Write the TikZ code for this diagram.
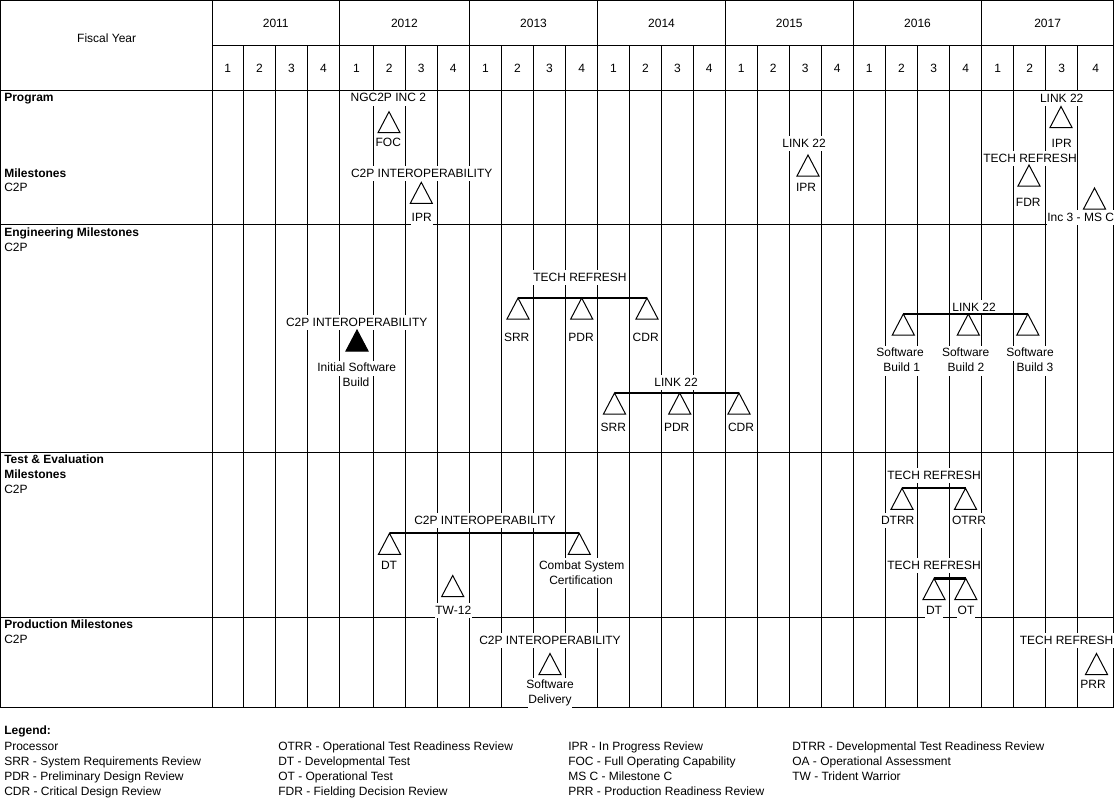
\documentclass[tikz,border=0pt]{standalone}
\usepackage{fontspec}
\setmainfont{Liberation Sans}
\tikzset{
  ms/.pic={\path[draw, line width=0.75pt, fill=white, line join=miter, pic actions] (0,0) -- (11,21) -- (-11,21) -- cycle;},
  msf/.pic={\path[draw, line width=0.75pt, fill=black, line join=miter] (0,0) -- (11,21) -- (-11,21) -- cycle;},
}
\begin{document}
\begin{tikzpicture}[x=0.75pt,y=-0.75pt,
  grid/.style={line width=0.75pt},
  bar/.style={line width=1.6pt},
  lbl/.style={fill=white, inner xsep=0.6pt, inner ysep=0.75pt, text height=7.5pt, text depth=2.3pt, font=\fontsize{9}{10.5}\selectfont, anchor=base},
  hd/.style={inner sep=0pt, font=\fontsize{9}{10.5}\selectfont, anchor=base},
  sec/.style={inner sep=0pt, anchor=base west, font=\fontsize{9}{10.5}\selectfont\bfseries},
  sub/.style={inner sep=0pt, anchor=base west, font=\fontsize{9}{10.5}\selectfont},
]
\useasboundingbox (0,0) rectangle (1116,800);
\fill[white] (0,0) rectangle (1116,800);

% ---------- grid ----------
\draw[grid] (0.5,0.5) rectangle (1113.5,707);
\draw[grid] (212,0.5) -- (212,707);
\draw[grid] (212,45) -- (1113.5,45);
\foreach \y in {90,224,452,617} \draw[grid] (0.5,\y) -- (1113.5,\y);
\foreach \x in {339.5,469.3,597.7,725.3,853.3,981.7} \draw[grid] (\x,0.5) -- (\x,707);
\foreach \x in {243.5,275.5,307.5,373.3,405.3,437.3,501.7,533.3,565.7,629.3,661.7,693.3,757.3,789.3,821.3,885.3,917.7,949.7,1013.7,1045.7,1077.7}
  \draw[grid] (\x,45) -- (\x,707);

% ---------- header ----------
\node[hd] (fy) at (106.7,42) {Fiscal Year};
\foreach \yr/\cx in {2011/275.75,2012/404.4,2013/533.5,2014/661.5,2015/789.3,2016/917.5,2017/1047.6}
  \node[hd] (y\yr) at (\cx,27.3) {\yr};
\foreach \x [count=\i, remember=\x as \lx (initially 212)] in {243.5,275.5,307.5,339.5,373.3,405.3,437.3,469.3,501.7,533.3,565.7,597.7,629.3,661.7,693.3,725.3,757.3,789.3,821.3,853.3,885.3,917.7,949.7,981.7,1013.7,1045.7,1077.7,1113.5}{
  \pgfmathtruncatemacro\qn{mod(\i-1,4)+1}
  \node[hd] (q\i) at ({(\x+\lx)/2},72.3) {\qn};
}

% ---------- left column ----------
\node[sec] (prog) at (4,101.5) {Program};
\node[sec] (progm) at (4,177) {Milestones};
\node[sub] (progc) at (4,191) {C2P};
\node[sec] (eng) at (4,236) {Engineering Milestones};
\node[sub] (engc) at (4,251) {C2P};
\node[sec] (te1) at (4,463.5) {Test \& Evaluation};
\node[sec] (te2) at (4,478.5) {Milestones};
\node[sub] (tec) at (4,493.5) {C2P};
\node[sec] (pm) at (4,628.5) {Production Milestones};
\node[sub] (pmc) at (4,643.5) {C2P};

% ---------- Program milestones ----------
\coordinate (foc) at (389,111.7);
\coordinate (ipr1) at (421.3,182.3);
\coordinate (ipr2) at (808,155);
\coordinate (ipr3) at (1061,106.5);
\coordinate (fdr) at (1029,165);
\coordinate (msc) at (1094.5,188);
\node[lbl] (ngc) at (388.3,101.5) {NGC2P INC 2};
\node[lbl] (focl) at (388.3,146.7) {FOC};
\node[lbl] (c2p1) at (421.7,177.3) {C2P INTEROPERABILITY};
\node[lbl] (ipr1l) at (421.7,221) {IPR};
\node[lbl] (l22a) at (804,147.3) {LINK 22};
\node[lbl] (ipr2l) at (806,191) {IPR};
\node[lbl] (l22b) at (1061.7,102.3) {LINK 22};
\node[lbl] (ipr3l) at (1061.7,147.3) {IPR};
\node[lbl] (trp) at (1030,162.3) {TECH REFRESH};
\node[lbl] (fdrl) at (1028.3,206.7) {FDR};
\node[lbl] (mscl) at (1080.7,221) {Inc 3 - MS C};
\foreach \c in {foc,ipr1,ipr2,ipr3,fdr,msc} \pic at (\c) {ms};

% ---------- Engineering milestones ----------
\coordinate (isb) at (357,330);
\node[lbl] (c2p2) at (356.7,326) {C2P INTEROPERABILITY};
\node[lbl] (isbl1) at (356.7,371.7) {Initial Software};
\node[lbl] (isbl2) at (356,386) {Build};
\pic at (isb) {msf};

\coordinate (esrr1) at (518,298);
\coordinate (epdr1) at (581.7,298);
\coordinate (ecdr1) at (647,298);
\node[lbl] (tre) at (580,281) {TECH REFRESH};
\node[lbl] (esrr1l) at (516.7,341.7) {SRR};
\node[lbl] (epdr1l) at (581,341.7) {PDR};
\node[lbl] (ecdr1l) at (645.7,341.7) {CDR};
\draw[bar] (esrr1) -- (ecdr1);
\foreach \c in {esrr1,epdr1,ecdr1} \pic at (\c) {ms};

\coordinate (esrr2) at (614.5,393);
\coordinate (epdr2) at (679.7,393);
\coordinate (ecdr2) at (739,393);
\node[lbl] (l22e) at (676,386) {LINK 22};
\node[lbl] (esrr2l) at (613.3,431) {SRR};
\node[lbl] (epdr2l) at (676.7,431) {PDR};
\node[lbl] (ecdr2l) at (741,431) {CDR};
\draw[bar] (esrr2) -- (ecdr2);
\foreach \c in {esrr2,epdr2,ecdr2} \pic at (\c) {ms};

\coordinate (sb1) at (903.3,314);
\coordinate (sb2) at (968.3,314);
\coordinate (sb3) at (1027.8,314);
\node[lbl] (l22f) at (974,311) {LINK 22};
\node[lbl] (sb1a) at (900,356.7) {Software};
\node[lbl] (sb1b) at (901.7,371.7) {Build 1};
\node[lbl] (sb2a) at (965.7,356.7) {Software};
\node[lbl] (sb2b) at (966,371.7) {Build 2};
\node[lbl] (sb3a) at (1030,356.7) {Software};
\node[lbl] (sb3b) at (1035,371.7) {Build 3};
\draw[bar] (sb1) -- (sb3);
\foreach \c in {sb1,sb2,sb3} \pic at (\c) {ms};

% ---------- Test & Evaluation milestones ----------
\coordinate (tdt) at (389.5,533.3);
\coordinate (csc) at (579.3,533.3);
\coordinate (tw) at (452.7,575.5);
\node[lbl] (c2p3) at (485,524.3) {C2P INTEROPERABILITY};
\node[lbl] (tdtl) at (389,569) {DT};
\node[lbl] (cscl1) at (581.7,569) {Combat System};
\node[lbl] (cscl2) at (581,584.3) {Certification};
\node[lbl] (twl) at (453.3,614) {TW-12};
\draw[bar] (tdt) -- (csc);
\foreach \c in {tdt,csc,tw} \pic at (\c) {ms};

\coordinate (dtrr) at (902,488.3);
\coordinate (otrr) at (965.5,488.3);
\node[lbl] (trt1) at (934,479) {TECH REFRESH};
\node[lbl] (dtrrl) at (897.7,524) {DTRR};
\node[lbl] (otrrl) at (969,524) {OTRR};
\draw[bar] (dtrr) -- (otrr);
\foreach \c in {dtrr,otrr} \pic at (\c) {ms};

\coordinate (dt2) at (934,578.5);
\coordinate (ot2) at (965.8,578.5);
\node[lbl] (trt2) at (934,569) {TECH REFRESH};
\node[lbl] (dt2l) at (934,614) {DT};
\node[lbl] (ot2l) at (966,614) {OT};
\draw[bar] (dt2) -- (ot2);
\foreach \c in {dt2,ot2} \pic at (\c) {ms};

% ---------- Production milestones ----------
\coordinate (swd) at (550,653.5);
\coordinate (prr) at (1096.5,653.5);
\node[lbl] (c2p4) at (550,644) {C2P INTEROPERABILITY};
\node[lbl] (swdl1) at (550,688.5) {Software};
\node[lbl] (swdl2) at (550,703.5) {Delivery};
\node[lbl] (trpr) at (1066.5,644) {TECH REFRESH};
\node[lbl] (prrl) at (1093,688.5) {PRR};
\foreach \c in {swd,prr} \pic at (\c) {ms};

% ---------- Legend ----------
\node[sec] (leg) at (4,734.5) {Legend:};
\foreach \t [count=\i] in {Processor,SRR - System Requirements Review,PDR - Preliminary Design Review,CDR - Critical Design Review}
  \node[sub] (la\i) at (4,{735.5+15*\i}) {\t};
\foreach \t [count=\i] in {OTRR - Operational Test Readiness Review,DT - Developmental Test,OT - Operational Test,FDR - Fielding Decision Review}
  \node[sub] (lb\i) at (278,{735.5+15*\i}) {\t};
\foreach \t [count=\i] in {IPR - In Progress Review,FOC - Full Operating Capability,MS C - Milestone C,PRR - Production Readiness Review}
  \node[sub] (lc\i) at (568,{735.5+15*\i}) {\t};
\foreach \t [count=\i] in {DTRR - Developmental Test Readiness Review,OA - Operational Assessment,TW - Trident Warrior}
  \node[sub] (ld\i) at (792,{735.5+15*\i}) {\t};
\end{tikzpicture}
\end{document}
